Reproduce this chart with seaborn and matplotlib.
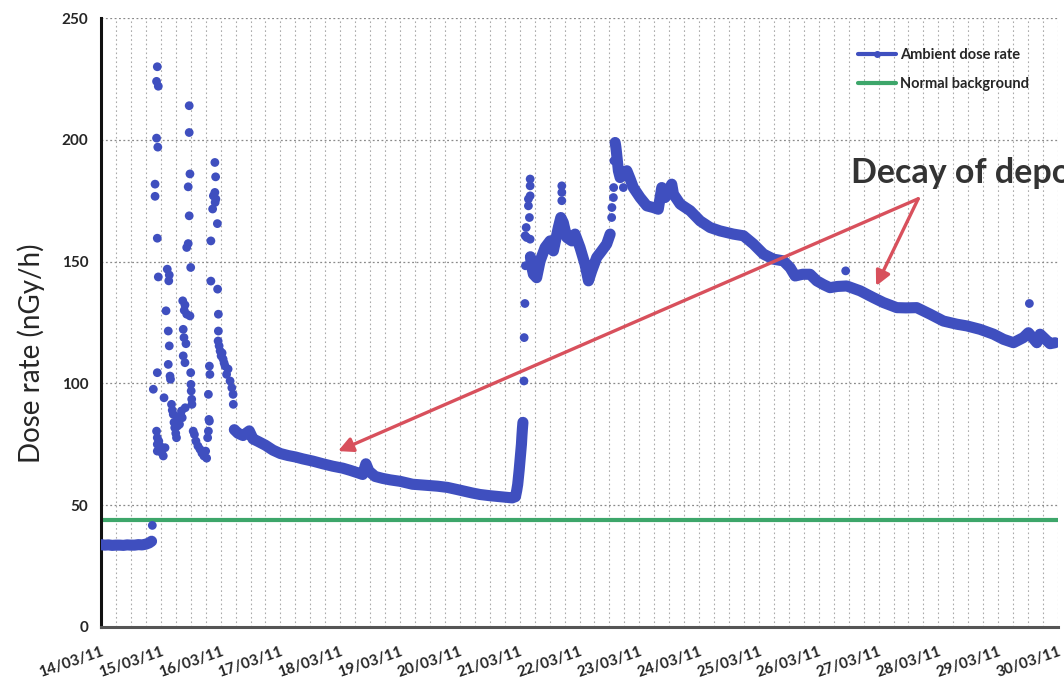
import numpy as np
import pandas as pd
import matplotlib
matplotlib.use("Agg")
import matplotlib.pyplot as plt
from matplotlib.lines import Line2D
from matplotlib.ticker import MultipleLocator
import seaborn as sns

# Ambient dose rate (nGy/h); time in hours after 14/03/11 00:00.
# Smooth stretches of the record (drawn as a continuous trace)
hours_pre = [0, 1.5, 3, 4.5, 6, 7.5, 9, 10.5, 12, 13.5, 15, 16.5, 18, 19.3, 20.3]
dose_pre = [33.8, 33.6, 33.7, 33.5, 33.6, 33.6, 33.5, 33.7, 33.6, 33.6, 33.8, 33.7, 34.0, 34.5, 35.2]

hours_decay1 = [53.5, 55, 57, 59.5, 61, 63, 66, 69, 72, 75, 78, 81, 85, 89, 93, 97, 100, 103,
                105, 106.3, 107.5, 110, 113, 116, 120, 125, 130, 135, 139, 143, 146, 149, 152,
                156, 159, 162, 165, 166.3, 166.8, 167.2, 167.5, 167.8, 168.1, 168.4, 168.7,
                168.9, 169.1, 169.3]
dose_decay1 = [81.0, 79.5, 78.6, 80.5, 77.2, 76.2, 74.6, 72.6, 71.2, 70.4, 69.8, 69.0, 68.1, 67.0,
               66.0, 65.2, 64.3, 63.3, 62.6, 67.0, 64.0, 61.8, 61.0, 60.4, 59.8, 58.6, 58.2, 57.8,
               57.3, 56.4, 55.7, 55.0, 54.4, 53.9, 53.6, 53.3, 53.0, 53.5, 56.0, 58.5, 61.5,
               64.5, 68.0, 71.5, 75.0, 78.5, 81.5, 84.0]

hours_mid = [172.3, 172.8, 173.5, 174.8, 176.2, 178.2, 180.2, 181.5, 183.5, 184.5, 185.5,
             186.9, 188.9, 190.2, 192.2, 194.2, 195.6, 196.9, 198.9, 200.9, 202.9, 204.3]
dose_mid = [152.0, 148.0, 144.8, 143.4, 150.3, 155.8, 158.5, 154.4, 164.0, 168.1, 166.0,
            159.9, 158.5, 161.3, 155.8, 148.9, 142.1, 146.2, 151.7, 154.4, 157.2, 161.3]

hours_decay2 = [206.3, 206.6, 206.9, 207.6, 208.3, 211.0, 212.3, 213.6, 216.3, 219.0, 221.6,
                223.6, 225.0, 226.3, 229.0, 229.7, 232.4, 236.4, 240.4, 244.4, 248.4, 253.7,
                257.8, 261.8, 265.8, 269.8, 273.8, 276.5, 278.5, 281.5, 284.5, 287.2, 290.0,
                292.5, 295.5, 299.2, 304.6, 309.9, 313.9, 319.3, 323.0, 327.3, 332.7, 338.0,
                343.4, 347.4, 352.7, 358.1, 362.1, 366.1, 370.1, 372.1, 375.5, 376.8, 380.8,
                382.8]
dose_decay2 = [198.9, 196.9, 194.2, 187.3, 184.5, 187.3, 184.0, 180.4, 176.3, 172.9, 172.2,
               171.5, 180.4, 176.3, 181.8, 177.7, 173.6, 170.9, 166.7, 164.0, 162.6, 161.3,
               160.6, 157.2, 153.1, 151.0, 150.3, 147.5, 144.1, 144.8, 144.8, 142.1, 140.5,
               139.3, 139.8, 140.0, 138.0, 135.2, 133.2, 131.1, 131.0, 131.1, 128.4, 125.6,
               124.3, 123.6, 122.2, 120.2, 118.1, 116.7, 118.8, 120.8, 116.7, 120.2, 116.3,
               116.7]

# Scattered readings during the plume passages and isolated spikes (drawn as dots only)
hours_spikes = [20.6, 21.0, 21.7, 21.7, 22.3, 22.3, 22.3, 22.6, 22.6, 22.6, 22.6, 22.6, 22.6,
                22.8, 23.0, 23.0, 23.2, 23.7, 24.4, 25.0, 25.3, 25.7,
                26.1, 26.6, 27.0, 27.0, 27.2, 27.4, 27.4, 27.7, 27.9,
                28.3, 28.6, 29.0, 29.3, 29.6, 30.0, 30.3, 30.7, 31.0, 31.5, 32.0, 32.3, 32.6,
                32.8, 33.0, 33.0, 33.3, 33.4, 33.7, 33.7, 33.8, 34.1, 34.4, 34.4, 35.0, 35.0,
                35.4, 35.4, 35.4, 35.7, 35.7, 36.0, 36.0, 36.1, 36.2, 36.4, 36.5,
                37.0, 37.5, 38.1, 38.9, 39.7, 40.5, 41.3, 42.0, 42.4,
                42.8, 43.1, 43.1, 43.3, 43.5, 43.5, 43.7, 44.1, 44.1, 44.8, 45.1, 45.7, 45.7,
                45.8, 46.0, 46.1, 46.7, 46.8, 47.0, 47.1, 47.1,
                47.4, 47.8, 48.2, 48.6, 49.0, 49.4, 49.8, 50.4, 51.0, 51.8, 52.5, 53.0, 53.1,
                169.7, 169.8, 170.1, 170.3, 170.2, 170.6, 170.8, 171.5, 171.5, 171.9,
                172.2, 172.2, 172.2, 172.2, 184.9, 184.9, 184.9,
                204.9, 205.0, 205.6, 205.7, 205.8, 209.6, 298.8, 372.5]
dose_spikes = [41.7, 97.6, 181.8, 176.8, 224.0, 200.7, 80.4, 230.0, 159.6, 104.4, 77.7, 75.0, 72.2,
               197.0, 222.0, 143.7, 76.3, 74.3, 71.5, 70.2, 94.1, 73.6,
               129.8, 146.9, 121.5, 107.8, 142.1, 144.5, 115.4, 103.0, 101.7,
               91.4, 89.0, 87.3, 84.0, 81.8, 79.5, 77.7, 82.5, 85.9, 83.2, 87.0, 88.7, 85.9,
               133.9, 122.2, 111.3, 118.8, 130.0, 132.2, 108.5, 90.0, 116.3, 128.4, 155.8,
               157.4, 180.7, 214.0, 203.0, 168.8, 186.0, 127.7, 147.6, 104.4, 99.6, 96.9,
               93.5, 91.4,
               80.4, 79.0, 76.3, 74.3, 73.0, 71.4, 70.2, 72.2, 69.3,
               77.7, 80.4, 95.5, 85.2, 84.5, 107.1, 103.7, 158.5, 142.0, 171.6, 177.0, 190.7, 178.4,
               174.3, 184.8, 175.7, 165.6, 138.7, 117.4, 128.4, 121.5,
               115.4, 113.3, 111.3, 112.5, 110.0, 108.4, 107.1, 103.7, 105.9, 101.0, 98.2, 95.5, 91.4,
               101.0, 118.8, 132.8, 148.3, 160.6, 164.0, 159.9, 172.9, 175.7, 168.1,
               177.0, 181.1, 183.9, 159.2, 175.0, 178.4, 181.1,
               168.1, 172.2, 176.3, 180.4, 191.4, 180.4, 146.2, 132.8]

background_level = 44.0
date_labels = ["14/03/11", "15/03/11", "16/03/11", "17/03/11", "18/03/11", "19/03/11",
               "20/03/11", "21/03/11", "22/03/11", "23/03/11", "24/03/11", "25/03/11",
               "26/03/11", "27/03/11", "28/03/11", "29/03/11", "30/03/11"]

BLUE = "#3F4FBF"
GREEN = "#3DA66A"
RED = "#D8505C"
TEXT = "#262626"

segments = [(hours_pre, dose_pre), (hours_decay1, dose_decay1),
            (hours_mid, dose_mid), (hours_decay2, dose_decay2)]
trace = pd.concat([pd.DataFrame({"day": np.asarray(h) / 24.0, "dose": d, "run": i})
                   for i, (h, d) in enumerate(segments)], ignore_index=True)
dots = pd.DataFrame({"day": np.asarray(hours_spikes) / 24.0, "dose": dose_spikes})
all_points = pd.concat([trace[["day", "dose"]], dots], ignore_index=True)

sns.set_theme(style="white")
plt.rcParams["font.family"] = ["Lato", "DejaVu Sans"]

fig = plt.figure(figsize=(10.64, 6.88), dpi=100)
ax = fig.add_axes([0.0949, 0.0887, 0.8995, 0.8851])

sns.lineplot(data=trace, x="day", y="dose", units="run", estimator=None, color=BLUE,
             lw=8, solid_capstyle="round", solid_joinstyle="round", ax=ax, legend=False,
             zorder=3)
sns.scatterplot(data=all_points, x="day", y="dose", color=BLUE, s=40, edgecolor="none",
                ax=ax, legend=False, zorder=4)

bg = pd.DataFrame({"day": [0, 16], "dose": [background_level, background_level]})
sns.lineplot(data=bg, x="day", y="dose", color=GREEN, lw=3, ax=ax, legend=False, zorder=2)

ax.set_xlim(0, 16)
ax.set_ylim(0, 250)
ax.set_xticks(range(17))
ax.set_xticklabels(date_labels, rotation=19, ha="right", rotation_mode="anchor",
                   fontsize=11, fontweight="bold", color=TEXT)
ax.xaxis.set_minor_locator(MultipleLocator(0.25))
ax.set_yticks(range(0, 251, 50))
ax.set_yticklabels([str(v) for v in range(0, 251, 50)], fontsize=11, fontweight="bold", color=TEXT)
ax.tick_params(axis="x", which="major", direction="out", length=4, width=2, pad=9, colors="#444444")
ax.tick_params(axis="x", which="minor", length=0)
ax.tick_params(axis="y", which="major", direction="out", length=5, width=2, pad=4, colors="#222222")
for lab in ax.get_xticklabels() + ax.get_yticklabels():
    lab.set_color(TEXT)

ax.grid(True, axis="y", which="major", color="#8a8a8a", ls=(0, (1.5, 2)), lw=0.9)
ax.grid(True, axis="x", which="both", color="#aaaaaa", ls=(0, (1.5, 2.5)), lw=0.8)
ax.set_axisbelow(True)

for side in ("top", "right"):
    ax.spines[side].set_visible(False)
ax.spines["left"].set_color("#111111")
ax.spines["left"].set_linewidth(2.2)
ax.spines["bottom"].set_color("#555555")
ax.spines["bottom"].set_linewidth(2.2)

ax.set_xlabel("")
ax.set_ylabel("Dose rate (nGy/h)", fontsize=20, color=TEXT)
ax.yaxis.set_label_coords(-0.058, 0.45)

# arrows pointing at the two decay phases
origin = (327.9 / 24, 175.8)
for target in [(95.1 / 24, 72.2), (311.0 / 24, 140.0)]:
    ax.annotate("", xy=target, xytext=origin,
                arrowprops=dict(arrowstyle="-|>", color=RED, lw=2.4, mutation_scale=22,
                                shrinkA=0, shrinkB=0), zorder=5)
ax.text(12.54, 186.5, "Decay of deposition", fontsize=24.5, fontweight="bold", color="#333333",
        va="center", ha="left", clip_on=False, zorder=6)

handles = [Line2D([0], [0], color=BLUE, lw=3, marker="o", markersize=4),
           Line2D([0], [0], color=GREEN, lw=3)]
ax.legend(handles, ["Ambient dose rate", "Normal background"], loc="upper left",
          bbox_to_anchor=(0.777, 0.972), frameon=False, handlelength=2.6, handletextpad=0.3,
          labelspacing=1.0, prop={"weight": "bold", "size": 10.5})

fig.savefig("out.png", dpi=100)
